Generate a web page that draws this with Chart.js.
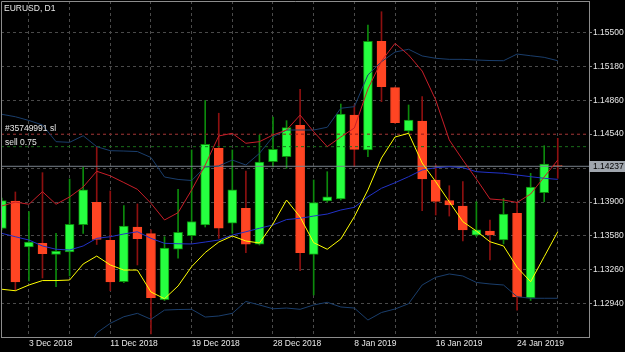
<!DOCTYPE html>
<html><head><meta charset="utf-8">
<script src="https://cdn.jsdelivr.net/npm/chart.js@4"></script>
<style>html,body{margin:0;padding:0;background:#000;overflow:hidden}canvas{display:block}</style>
</head><body>
<canvas id="c" width="625" height="352"></canvas>
<script>
const dates = ['29 Nov 2018','30 Nov 2018','3 Dec 2018','4 Dec 2018','5 Dec 2018','6 Dec 2018','7 Dec 2018','10 Dec 2018','11 Dec 2018','12 Dec 2018','13 Dec 2018','14 Dec 2018','17 Dec 2018','18 Dec 2018','19 Dec 2018','20 Dec 2018','21 Dec 2018','24 Dec 2018','26 Dec 2018','27 Dec 2018','28 Dec 2018','31 Dec 2018','2 Jan 2019','3 Jan 2019','4 Jan 2019','7 Jan 2019','8 Jan 2019','9 Jan 2019','10 Jan 2019','11 Jan 2019','14 Jan 2019','15 Jan 2019','16 Jan 2019','17 Jan 2019','18 Jan 2019','21 Jan 2019','22 Jan 2019','23 Jan 2019','24 Jan 2019','25 Jan 2019','28 Jan 2019','29 Jan 2019'];

const open  = [1.13651,1.13910,1.13476,1.13511,1.13406,1.13429,1.13686,1.13898,1.13538,1.13149,1.13663,1.13602,1.12980,1.13455,1.13583,1.13684,1.14407,1.13700,1.13841,1.13502,1.14280,1.14327,1.14623,1.13407,1.13910,1.13929,1.14720,1.14391,1.15415,1.14978,1.14570,1.14664,1.14108,1.13915,1.13863,1.13587,1.13627,1.13542,1.13794,1.12996,1.13988,1.14244];
const high  = [1.13938,1.13995,1.13809,1.14177,1.13605,1.14117,1.14228,1.14422,1.14004,1.13866,1.13882,1.13637,1.13573,1.14020,1.14391,1.14857,1.14737,1.14391,1.14193,1.14532,1.14702,1.14667,1.14963,1.14108,1.14186,1.14824,1.14815,1.15569,1.15694,1.14984,1.14815,1.14893,1.14249,1.14054,1.14092,1.13903,1.13731,1.13935,1.13891,1.14171,1.14431,1.14501];
const low   = [1.13637,1.13066,1.13156,1.13184,1.13102,1.13203,1.13604,1.13500,1.13064,1.13140,1.13307,1.12656,1.12972,1.13370,1.13542,1.13665,1.13558,1.13605,1.13422,1.13495,1.14230,1.14218,1.13253,1.13024,1.13899,1.13919,1.14233,1.14327,1.14846,1.14640,1.14551,1.13818,1.13778,1.13768,1.13533,1.13575,1.13354,1.13505,1.12882,1.12972,1.13903,1.14124];
const close = [1.13913,1.13146,1.13523,1.13413,1.13439,1.13690,1.14014,1.13547,1.13146,1.13674,1.13554,1.12998,1.13467,1.13615,1.13717,1.14444,1.13653,1.14016,1.13502,1.14277,1.14397,1.14601,1.13422,1.13894,1.13950,1.14730,1.14397,1.15415,1.14987,1.14648,1.14673,1.14117,1.13907,1.13874,1.13637,1.13637,1.13589,1.13787,1.13005,1.14042,1.14259,1.14237];

const bbUpper  = [1.14727,1.14704,1.14669,1.14626,1.14469,1.14463,1.14525,1.14422,1.14384,1.14381,1.14376,1.14320,1.14136,1.14113,1.14103,1.14230,1.14240,1.14296,1.14249,1.14359,1.14516,1.14579,1.14579,1.14579,1.14605,1.14784,1.14799,1.15098,1.15223,1.15314,1.15340,1.15277,1.15255,1.15245,1.15245,1.15239,1.15234,1.15232,1.15295,1.15279,1.15264,1.15232];
const bbMiddle = [1.13605,1.13573,1.13542,1.13486,1.13455,1.13448,1.13486,1.13558,1.13573,1.13599,1.13620,1.13558,1.13511,1.13507,1.13505,1.13523,1.13542,1.13589,1.13620,1.13653,1.13684,1.13735,1.13747,1.13768,1.13787,1.13825,1.13850,1.13950,1.14030,1.14082,1.14139,1.14202,1.14224,1.14233,1.14224,1.14186,1.14178,1.14171,1.14155,1.14139,1.14124,1.14114];
const bbLower  = [1.12483,1.12442,1.12415,1.12346,1.12441,1.12433,1.12447,1.12666,1.12757,1.12819,1.12851,1.12795,1.12882,1.12887,1.12889,1.12816,1.12826,1.12851,1.12963,1.12930,1.12894,1.12901,1.12889,1.12930,1.12955,1.12911,1.12901,1.12788,1.12859,1.12892,1.12942,1.13118,1.13191,1.13222,1.13203,1.13142,1.13128,1.13118,1.13008,1.12993,1.12993,1.12993];
const redLine  = [1.13863,1.13900,1.13879,1.13998,1.13879,1.13948,1.14042,1.14190,1.14147,1.14084,1.14020,1.13888,1.13731,1.13800,1.14014,1.14249,1.14523,1.14548,1.14454,1.14469,1.14532,1.14579,1.14720,1.14563,1.14422,1.14513,1.14598,1.14966,1.15229,1.15396,1.15286,1.15135,1.14862,1.14485,1.14296,1.14117,1.13929,1.13919,1.13896,1.13976,1.14136,1.14296];
const yellowLine = [1.13078,1.13064,1.13118,1.13160,1.13160,1.13165,1.13316,1.13391,1.13307,1.13259,1.13259,1.13052,1.12989,1.13109,1.13291,1.13424,1.13523,1.13580,1.13533,1.13514,1.13693,1.13919,1.13759,1.13517,1.13455,1.13552,1.13762,1.14014,1.14315,1.14513,1.14548,1.14268,1.14092,1.13903,1.13715,1.13627,1.13526,1.13486,1.13285,1.13149,1.13385,1.13620];

const yTicks = [1.12940,1.13260,1.13580,1.13900,1.14220,1.14540,1.14860,1.15180,1.15500];
const slLevel = 1.14540;
const sellLevel = 1.14422;
const bidPrice = 1.14237;
const symbolText = 'EURUSD, D1';
const slText = '#35749991 sl';
const sellText = 'sell 0.75';

const X_MIN = -0.059, X_MAX = 43.304;
const Y_MIN = 1.12628, Y_MAX = 1.15795;

const FONT = {family:'Liberation Sans, Arial, sans-serif', size:8.5};
const BULL = '#26ff40', BEAR = '#ff4523', BULL_W = '#0c8a0c', BEAR_W = '#8c1010';

const idx = dates.map((d,i)=>i);
const isBull = idx.map(i => close[i] >= open[i]);
const pts = arr => arr.map((v,i)=>({x:i, y:v}));
const flat = v => [{x:X_MIN, y:v},{x:X_MAX, y:v}];

const gridIdx = idx.filter(i => i >= 2 && (i-2) % 3 === 0);
const labelIdx = idx.filter(i => i >= 2 && (i-2) % 6 === 0);

const overlay = {
  id:'overlay',
  afterDraw(chart){
    const {ctx, chartArea:a, scales:{y}} = chart;
    ctx.save();
    ctx.strokeStyle = '#8c8c8c'; ctx.lineWidth = 1;
    ctx.beginPath();
    ctx.moveTo(a.left+0.5, a.bottom); ctx.lineTo(a.left+0.5, a.top+0.5); ctx.lineTo(a.right, a.top+0.5);
    ctx.stroke();
    ctx.font = FONT.size + 'px ' + FONT.family;
    ctx.fillStyle = '#e8e8e8';
    ctx.textBaseline = 'middle'; ctx.textAlign = 'left';
    ctx.fillText(symbolText, a.left+3, a.top+7.5);
    ctx.fillText(slText, a.left+4, y.getPixelForValue(slLevel)-5.5);
    ctx.fillText(sellText, a.left+4, y.getPixelForValue(sellLevel)-4.5);
    const py = Math.round(y.getPixelForValue(bidPrice));
    ctx.fillStyle = '#a0a6ae';
    ctx.fillRect(a.right, py-5, chart.width - a.right, 11);
    ctx.fillStyle = '#000';
    ctx.fillText(bidPrice.toFixed(5), a.right+4, py+0.5);
    ctx.restore();
  }
};

new Chart(document.getElementById('c'), {
  type:'bar',
  data:{
    datasets:[
      {type:'line', data:pts(redLine), borderColor:'#c81e28', borderWidth:1, pointRadius:0, order:1},
      {type:'line', data:pts(yellowLine), borderColor:'#ffff00', borderWidth:1, pointRadius:0, order:1},
      {type:'line', data:pts(bbUpper), borderColor:'#1a3e6c', borderWidth:1, pointRadius:0, order:2},
      {type:'line', data:pts(bbMiddle), borderColor:'#2232c8', borderWidth:1, pointRadius:0, order:2},
      {type:'line', data:pts(bbLower), borderColor:'#1a3e6c', borderWidth:1, pointRadius:0, order:2},
      {type:'line', data:flat(bidPrice), borderColor:'#78818c', borderWidth:1, pointRadius:0, order:3},
      {type:'line', data:flat(slLevel), borderColor:'#8c1a1a', borderWidth:1, borderDash:[3,3], pointRadius:0, order:3},
      {type:'line', data:flat(sellLevel), borderColor:'#1a6e1a', borderWidth:1, borderDash:[3,3], pointRadius:0, order:3},
      {data: idx.map(i=>({x:i, y:[open[i], close[i]]})), barThickness:9, grouped:false,
       backgroundColor: idx.map(i=>isBull[i]?BULL:BEAR), borderColor: idx.map(i=>isBull[i]?BULL_W:BEAR), borderWidth:1, borderSkipped:false, order:4},
      {data: idx.map(i=>({x:i, y:[low[i], high[i]]})), barThickness:1, grouped:false,
       backgroundColor: idx.map(i=>isBull[i]?BULL_W:BEAR_W), borderWidth:0, order:5}
    ]
  },
  options:{
    responsive:false, animation:false,
    layout:{padding:{left:1, top:1, right:0, bottom:0}},
    plugins:{legend:{display:false}, tooltip:{enabled:false}},
    scales:{
      x:{type:'linear', position:'bottom', min:X_MIN, max:X_MAX, offset:false,
        afterBuildTicks: s => { s.ticks = gridIdx.map(v=>({value:v})); },
        afterFit: s => { s.height = 15; s.paddingLeft = 0; s.paddingRight = 0; },
        ticks:{autoSkip:false, maxRotation:0, minRotation:0, align:'start', padding:2, color:'#e8e8e8', font:FONT,
          callback: v => labelIdx.includes(v) ? dates[v] : ''},
        grid:{color:'#4a4a4a', drawTicks:false, lineWidth:1, offset:false},
        border:{display:true, color:'#8c8c8c', dash:[3,3]}
      },
      y:{type:'linear', position:'right', min:Y_MIN, max:Y_MAX,
        afterBuildTicks: s => { s.ticks = yTicks.map(v=>({value:v})); },
        afterFit: s => { s.width = 36; s.paddingTop = 0; s.paddingBottom = 0; },
        ticks:{padding:1, color:'#e8e8e8', font:FONT, callback: v => v.toFixed(5)},
        grid:{color:'#4a4a4a', drawTicks:true, tickLength:3, tickColor:'#8c8c8c', tickBorderDash:[], lineWidth:1},
        border:{display:true, color:'#8c8c8c', dash:[3,3]}
      }
    }
  },
  plugins:[overlay]
});
</script>
</body></html>
